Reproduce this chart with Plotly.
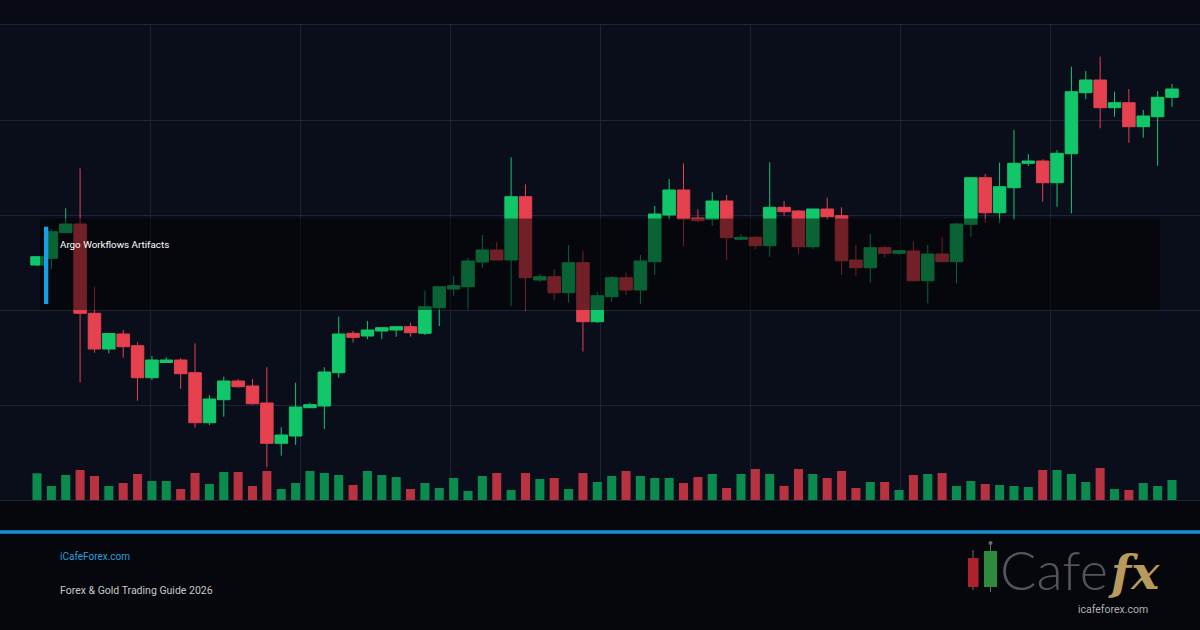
import plotly.graph_objects as go

# ---------------- data ----------------
bar_index = list(range(80))

open_ = [2135, 2141.7, 2167.3, 2176, 2086.7, 2051, 2066, 2054.3, 2022.3, 2037.5,
         2040, 2027.3, 1977.3, 2000.3, 2019, 2014, 1997, 1956.7, 1964, 1992.3,
         1994, 2027.3, 2066.7, 2064, 2069, 2070, 2073.3, 2066.7, 2092.3, 2111,
         2113.3, 2138, 2150, 2140, 2203.3, 2120, 2123.3, 2107.3, 2137.3, 2078.3,
         2103.3, 2122.3, 2110, 2138.3, 2185, 2210, 2182, 2180.7, 2199, 2160.7,
         2162.7, 2154.3, 2192.7, 2189, 2153.3, 2191, 2184.3, 2140, 2132.3, 2152.3,
         2146.7, 2149, 2119.3, 2146, 2138.3, 2175.7, 2222.3, 2187.3, 2212.3, 2236.7,
         2239, 2217.3, 2246.3, 2307.3, 2320, 2292.3, 2297.3, 2273.3, 2283.3, 2302.7]

high = [2144, 2171, 2191.7, 2231.7, 2113.3, 2067, 2070, 2057.7, 2044, 2042.7,
        2041.7, 2056.7, 2005, 2023.3, 2021, 2021, 2032.7, 1972.7, 2017.3, 1997.3,
        2032.7, 2083.3, 2069, 2079, 2073, 2074, 2077.3, 2109.3, 2113.3, 2124,
        2142.3, 2165, 2157.7, 2242.7, 2215.7, 2126, 2131, 2155, 2149.3, 2108.3,
        2124, 2127.7, 2145, 2194, 2221, 2236.7, 2190.7, 2207.7, 2205, 2165.7,
        2164, 2237.7, 2199, 2190, 2191, 2202.3, 2192.7, 2155, 2166, 2154,
        2150, 2158.3, 2155, 2163.3, 2177.3, 2222.3, 2226, 2237.3, 2270, 2246,
        2240.7, 2250, 2333.3, 2329, 2343.3, 2308.3, 2311, 2290, 2309, 2316]

low = [2134, 2131, 2167, 2017.7, 2047.3, 2046.7, 2042.3, 1999.3, 2020, 2037.3,
       2011, 1972.3, 1975, 1983.3, 2012.3, 1995.3, 1932.7, 1944.3, 1955, 1992,
       1971, 2022.3, 2057.3, 2060.7, 2061, 2063.3, 2063.3, 2065, 2074, 2104.3,
       2090.7, 2132.3, 2140, 2094, 2089, 2118.3, 2100, 2097.3, 2048.3, 2077,
       2098.3, 2105, 2096, 2125, 2180.7, 2154, 2178.3, 2174, 2140, 2160,
       2150.7, 2143.3, 2184.3, 2146, 2151, 2180, 2125, 2124, 2117.3, 2142.7,
       2145, 2118.3, 2096.7, 2138.3, 2116.7, 2163.3, 2177.3, 2176.7, 2180, 2234,
       2198.3, 2193.3, 2186.7, 2301, 2271.7, 2283.3, 2257.3, 2262.3, 2234.3, 2293.3]

close = [2143.3, 2168.3, 2176, 2086.7, 2051, 2066.5, 2053.3, 2022.3, 2040, 2040,
         2026.3, 1977.3, 2001, 2019, 2013.3, 1996.3, 1956.7, 1965, 1993, 1995.3,
         2028, 2066, 2062.7, 2070, 2072.3, 2073.3, 2067.3, 2093.3, 2113.3, 2114.3,
         2139, 2150, 2140, 2203.3, 2122.3, 2123.3, 2107.3, 2137.3, 2078.3, 2104.3,
         2122.3, 2110, 2139, 2186, 2210, 2181, 2179.3, 2199, 2162.3, 2162.7,
         2154.3, 2192.7, 2188.3, 2153.3, 2191, 2183.3, 2139.3, 2132.3, 2152.3, 2146.7,
         2149.3, 2119.3, 2146, 2138.3, 2176, 2222.3, 2187.3, 2213.3, 2236.7, 2239,
         2217.3, 2246.7, 2308.3, 2320, 2292.3, 2297.3, 2273.3, 2284, 2302.7, 2311]

volume = [267, 140, 250, 300, 240, 140, 170, 260, 190, 190,
          110, 270, 160, 280, 280, 140, 290, 110, 170, 290,
          270, 250, 150, 290, 250, 230, 110, 170, 120, 220,
          90, 240, 270, 100, 270, 210, 220, 110, 270, 180,
          240, 290, 240, 220, 220, 170, 230, 260, 120, 260,
          310, 260, 140, 310, 260, 220, 290, 120, 180, 180,
          100, 250, 260, 270, 140, 190, 160, 150, 140, 130,
          300, 300, 260, 180, 320, 110, 100, 170, 140, 200]

overlay_label = "Argo Workflows Artifacts"
footer_site = "iCafeForex.com"
footer_title = "Forex & Gold Trading Guide 2026"
logo_text = "Cafe"
logo_fx = "fx"
logo_url = "icafeforex.com"

# ---------------- style ----------------
W, H = 1200, 630
UP, DOWN = "#12c76a", "#e5414f"
VOL_UP, VOL_DOWN = "#0b8c4e", "#b8323f"
GRID = "#1e2436"
PLOT_BG = "#0a0e1a"
PAPER_BG = "#05070c"

def px(x):
    return x / W

def py(y):
    return 1 - y / H

first_px, step_px = 37, 14.367
x_range = [-first_px / step_px, (W - first_px) / step_px]
plot_top, plot_bottom = 25, 500

vol_colors = [VOL_UP if c >= o else VOL_DOWN for o, c in zip(open_, close)]

fig = go.Figure()
fig.add_trace(go.Bar(
    x=bar_index, y=volume, marker=dict(color=vol_colors, line=dict(width=0)),
    width=0.63, yaxis="y2", showlegend=False, hoverinfo="skip"))
fig.add_trace(go.Candlestick(
    x=bar_index, open=open_, high=high, low=low, close=close,
    increasing=dict(line=dict(color=UP, width=1), fillcolor=UP),
    decreasing=dict(line=dict(color=DOWN, width=1), fillcolor=DOWN),
    whiskerwidth=0, showlegend=False))

shapes = [
    # top strip
    dict(type="rect", xref="paper", yref="paper", x0=0, x1=1, y0=py(plot_top), y1=1,
         fillcolor="#070a13", line=dict(width=0), layer="below"),
    # darkened overlay band
    dict(type="rect", xref="paper", yref="paper", x0=px(40), x1=px(1160),
         y0=py(310), y1=py(218.5), fillcolor="rgba(0,0,0,0.5)", line=dict(width=0), layer="above"),
    # blue accent bar
    dict(type="rect", xref="paper", yref="paper", x0=px(44), x1=px(48.3),
         y0=py(304), y1=py(226.7), fillcolor="#1a9ee6", line=dict(width=0), layer="above"),
    # footer blue rule
    dict(type="rect", xref="paper", yref="paper", x0=0, x1=1,
         y0=py(533.8), y1=py(530.2), fillcolor="#1b8fd2", line=dict(width=0), layer="above"),
    # logo candles: red
    dict(type="line", xref="paper", yref="paper", x0=px(973), x1=px(973), y0=py(590), y1=py(550),
         line=dict(color="#6b6b6b", width=1), layer="above"),
    dict(type="rect", xref="paper", yref="paper", x0=px(968), x1=px(978.5), y0=py(587), y1=py(558),
         fillcolor="#b0222b", line=dict(width=0), layer="above"),
    # logo candles: green
    dict(type="line", xref="paper", yref="paper", x0=px(990.5), x1=px(990.5), y0=py(592), y1=py(543),
         line=dict(color="#6b6b6b", width=1), layer="above"),
    dict(type="circle", xref="paper", yref="paper", x0=px(988.5), x1=px(992.5), y0=py(545), y1=py(541),
         fillcolor="#6b6b6b", line=dict(width=0), layer="above"),
    dict(type="rect", xref="paper", yref="paper", x0=px(984), x1=px(997), y0=py(587), y1=py(551),
         fillcolor="#2e8b3e", line=dict(width=0), layer="above"),
]

annotations = [
    dict(text=overlay_label, xref="paper", yref="paper", x=px(58), y=py(245),
         xanchor="left", yanchor="middle", showarrow=False,
         font=dict(family="Roboto", size=9.8, color="#ffffff")),
    dict(text=footer_site, xref="paper", yref="paper", x=px(58), y=py(556),
         xanchor="left", yanchor="middle", showarrow=False,
         font=dict(family="Roboto", size=10, color="#2a9fdb")),
    dict(text=footer_title, xref="paper", yref="paper", x=px(58), y=py(590),
         xanchor="left", yanchor="middle", showarrow=False,
         font=dict(family="Roboto", size=10.5, color="#c8c8c8")),
    dict(text=logo_text, xref="paper", yref="paper", x=px(998), y=py(569),
         xanchor="left", yanchor="middle", showarrow=False,
         font=dict(family="Lato", size=54, color="#555555", weight=300)),
    dict(text="<b><i>" + logo_fx + "</i></b>", xref="paper", yref="paper", x=px(1134), y=py(572),
         xanchor="center", yanchor="middle", showarrow=False,
         font=dict(family="DejaVu Serif", size=47, color="#b89a5c")),
    dict(text=logo_url, xref="paper", yref="paper", x=px(1113), y=py(609),
         xanchor="center", yanchor="middle", showarrow=False,
         font=dict(family="Roboto", size=10.5, color="#b0b0b0")),
]

fig.update_layout(
    width=W, height=H, margin=dict(l=0, r=0, t=0, b=0),
    paper_bgcolor=PAPER_BG, plot_bgcolor=PLOT_BG,
    boxgap=1 - 12.5 / step_px, boxgroupgap=0,
    showlegend=False, hovermode=False,
    xaxis=dict(range=x_range, domain=[0, 1], showgrid=True, gridcolor=GRID, gridwidth=1,
               tick0=x_range[0], dtick=150 / step_px, showticklabels=False, ticks="",
               zeroline=False, showline=True, mirror=True, linecolor=GRID, linewidth=1,
               rangeslider=dict(visible=False), fixedrange=True),
    yaxis=dict(range=[1900, 2375], domain=[py(plot_bottom), py(plot_top)],
               showgrid=True, gridcolor=GRID, gridwidth=1, tick0=1900, dtick=95,
               showticklabels=False, ticks="", zeroline=False, fixedrange=True),
    yaxis2=dict(range=[0, 4750], overlaying="y", domain=[py(plot_bottom), py(plot_top)],
                showgrid=False, showticklabels=False, ticks="", zeroline=False, fixedrange=True),
    shapes=shapes, annotations=annotations,
)

fig.write_html("out.html", config={"displayModeBar": False})
